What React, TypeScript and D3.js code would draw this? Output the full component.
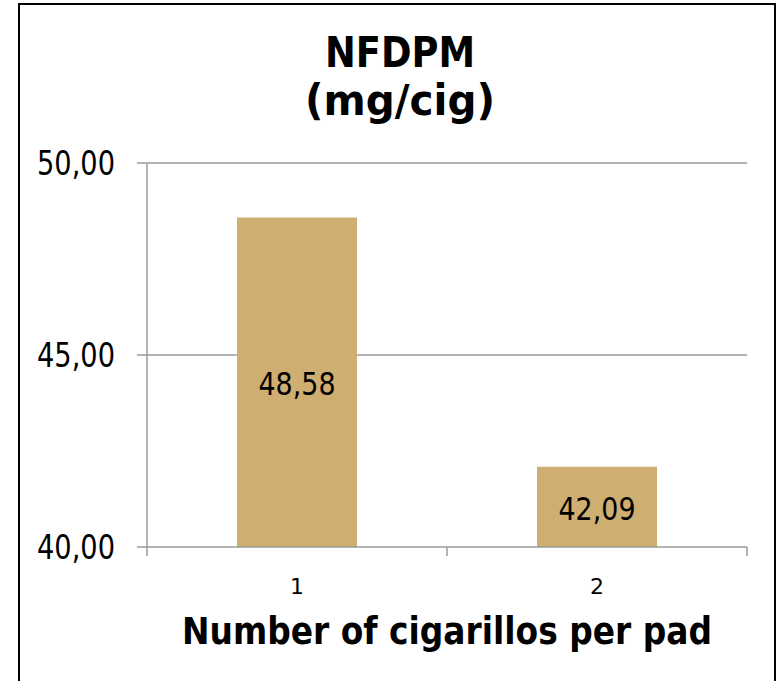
import React, { useEffect, useRef } from 'react';
import * as d3 from 'd3';

const categories = ['1', '2'];
const values = [48.58, 42.09];
const valueLabels = ['48,58', '42,09'];
const yTicks = [40, 45, 50];
const yTickLabels = ['40,00', '45,00', '50,00'];
const titleLines = ['NFDPM', '(mg/cig)'];
const xTitle = 'Number of cigarillos per pad';

const App = () => {
  const chartRef = useRef<HTMLDivElement>(null);

  useEffect(() => {
    if (chartRef.current) {
      d3.select(chartRef.current).selectAll('*').remove();
    }

    const width = 779;
    const height = 681;
    const margin = { top: 163, right: 32, bottom: 134, left: 147 };
    const font = "'DejaVu Sans', Verdana, sans-serif";
    const grid = '#9a9a9a';

    const svg = d3
      .select(chartRef.current)
      .append('svg')
      .attr('width', width)
      .attr('height', height)
      .style('display', 'block')
      .style('position', 'absolute')
      .style('left', 0)
      .style('top', 0);

    svg.append('rect').attr('width', width).attr('height', height).attr('fill', '#fff');

    // outer frame (bottom edge falls outside the picture)
    svg
      .append('rect')
      .attr('x', 19)
      .attr('y', 4)
      .attr('width', 756)
      .attr('height', 700)
      .attr('fill', 'none')
      .attr('stroke', '#000')
      .attr('stroke-width', 2);

    const x = d3
      .scaleBand()
      .domain(categories)
      .range([margin.left, width - margin.right])
      .padding(0);

    const y = d3
      .scaleLinear()
      .domain([40, 50])
      .range([height - margin.bottom, margin.top]);

    // gridlines
    svg
      .append('g')
      .selectAll('line')
      .data(yTicks.slice(1))
      .join('line')
      .attr('x1', margin.left)
      .attr('x2', width - margin.right)
      .attr('y1', (d) => y(d))
      .attr('y2', (d) => y(d))
      .attr('stroke', grid)
      .attr('stroke-width', 1.5);

    // bars
    const bw = x.bandwidth() * 0.4;
    svg
      .append('g')
      .selectAll('rect')
      .data(values)
      .join('rect')
      .attr('x', (_, i) => (x(categories[i]) as number) + x.bandwidth() * 0.3)
      .attr('y', (d) => y(d))
      .attr('width', bw)
      .attr('height', (d) => y(40) - y(d))
      .attr('fill', '#cfae71');

    // data labels
    svg
      .append('g')
      .selectAll('text')
      .data(values)
      .join('text')
      .attr('x', (_, i) => (x(categories[i]) as number) + x.bandwidth() / 2)
      .attr('y', (d) => (y(d) + y(40)) / 2 + 13)
      .attr('text-anchor', 'middle')
      .attr('font-family', font)
      .attr('font-size', 32)
      .attr('textLength', 77)
      .attr('lengthAdjust', 'spacingAndGlyphs')
      .attr('fill', '#000')
      .text((_, i) => valueLabels[i]);

    // y axis
    svg
      .append('line')
      .attr('x1', margin.left)
      .attr('x2', margin.left)
      .attr('y1', y(50))
      .attr('y2', y(40))
      .attr('stroke', grid)
      .attr('stroke-width', 1.5);

    svg
      .append('g')
      .selectAll('line')
      .data(yTicks)
      .join('line')
      .attr('x1', margin.left - 10)
      .attr('x2', margin.left)
      .attr('y1', (d) => y(d))
      .attr('y2', (d) => y(d))
      .attr('stroke', grid)
      .attr('stroke-width', 1.5);

    svg
      .append('g')
      .selectAll('text')
      .data(yTicks)
      .join('text')
      .attr('x', 115)
      .attr('y', (d) => y(d) + 12)
      .attr('text-anchor', 'end')
      .attr('font-family', font)
      .attr('font-size', 33)
      .attr('textLength', 78)
      .attr('lengthAdjust', 'spacingAndGlyphs')
      .attr('fill', '#000')
      .text((_, i) => yTickLabels[i]);

    // x axis
    svg
      .append('line')
      .attr('x1', margin.left)
      .attr('x2', width - margin.right)
      .attr('y1', y(40))
      .attr('y2', y(40))
      .attr('stroke', grid)
      .attr('stroke-width', 1.5);

    const xEdges = [...categories.map((c) => x(c) as number), width - margin.right];
    svg
      .append('g')
      .selectAll('line')
      .data(xEdges)
      .join('line')
      .attr('x1', (d) => d)
      .attr('x2', (d) => d)
      .attr('y1', y(40))
      .attr('y2', y(40) + 9)
      .attr('stroke', grid)
      .attr('stroke-width', 1.5);

    svg
      .append('g')
      .selectAll('text')
      .data(categories)
      .join('text')
      .attr('x', (d) => (x(d) as number) + x.bandwidth() / 2)
      .attr('y', 594)
      .attr('text-anchor', 'middle')
      .attr('font-family', font)
      .attr('font-size', 22)
      .attr('fill', '#000')
      .text((d) => d);

    // x axis title
    svg
      .append('text')
      .attr('x', 447)
      .attr('y', 644)
      .attr('text-anchor', 'middle')
      .attr('font-family', font)
      .attr('font-weight', 'bold')
      .attr('font-size', 37)
      .attr('textLength', 530)
      .attr('lengthAdjust', 'spacingAndGlyphs')
      .attr('fill', '#000')
      .text(xTitle);

    // chart title
    const titleWidths = [150, 190];
    svg
      .append('g')
      .selectAll('text')
      .data(titleLines)
      .join('text')
      .attr('x', 400)
      .attr('y', (_, i) => 67 + i * 48)
      .attr('text-anchor', 'middle')
      .attr('font-family', font)
      .attr('font-weight', 'bold')
      .attr('font-size', 42)
      .attr('textLength', (_, i) => titleWidths[i])
      .attr('lengthAdjust', 'spacingAndGlyphs')
      .attr('fill', '#000')
      .text((d) => d);
  }, []);

  return <div ref={chartRef}></div>;
};

export default App;
